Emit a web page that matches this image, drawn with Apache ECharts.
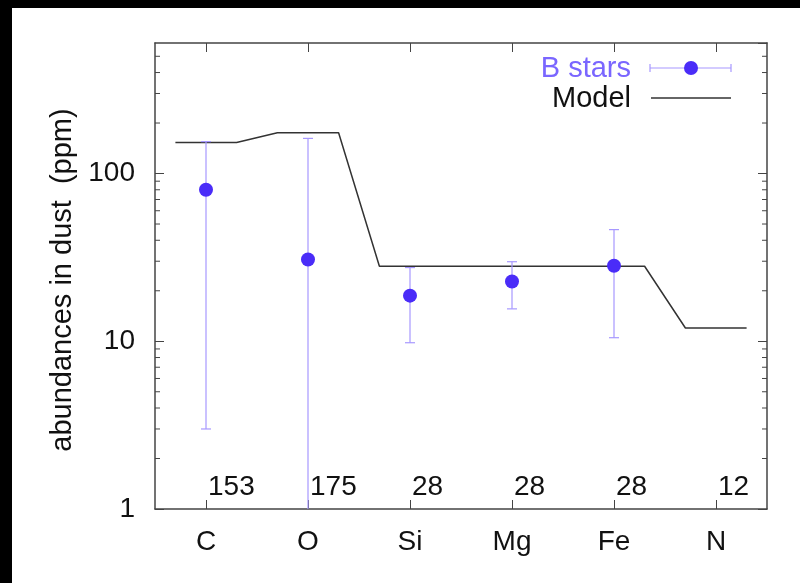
<!DOCTYPE html>
<html>
<head>
<meta charset="utf-8">
<title>abundances in dust</title>
<script src="https://cdn.jsdelivr.net/npm/echarts@6/dist/echarts.min.js"></script>
<style>
  html, body { margin: 0; padding: 0; background: #000; }
  #chart { position: absolute; left: 12px; top: 8px; width: 788px; height: 575px; background: #fff; }
</style>
</head>
<body>
<div id="chart"></div>
<script>
var elements = ["C", "O", "Si", "Mg", "Fe", "N"];
var modelValues = [153, 175, 28, 28, 28, 12];
var modelLabels = ["153", "175", "28", "28", "28", "12"];
// B stars: value, lower and upper end of the error bar
var starValues = [80, 30.7, 18.7, 22.7, 28.2];
var starLow = [3.0, 0.5, 9.8, 15.6, 10.5];
var starHigh = [155, 162, 27.5, 29.8, 46.3];
var yMinorTicks = [2, 3, 4, 5, 6, 7, 8, 9, 20, 30, 40, 50, 60, 70, 80, 90, 200, 300, 400, 500];

!(function(echarts) {
  var font = "Liberation Sans, Arial, Helvetica, sans-serif";
  var ink = "#111";
  var frame = "#444";
  var dotColor = "#4a2cf8";
  var barColor = "#a798ff";

  var chart = echarts.init(document.getElementById("chart"));

  // model: flat step around each element, joined by sloped segments
  var modelLine = [];
  modelValues.forEach(function(v, i) {
    modelLine.push([i - 0.3, v]);
    modelLine.push([i + 0.3, v]);
  });

  var stars = starValues.map(function(v, i) { return [i, v]; });
  var bars = starValues.map(function(v, i) { return [i, starLow[i], starHigh[i]]; });
  var labelPts = modelLabels.map(function(t, i) { return [i, 1.35, t]; });
  var minor = yMinorTicks.map(function(v) { return [0, v]; });

  function catAxis(pos, labels) {
    return {
      type: "category",
      position: pos,
      data: elements,
      boundaryGap: true,
      axisLine: { show: true, onZero: false, lineStyle: { color: frame, width: 1.5 } },
      axisTick: { show: true, inside: true, alignWithLabel: true, length: 9, lineStyle: { color: frame, width: 1 } },
      axisLabel: { show: labels, margin: 19, color: ink, fontSize: 28, fontFamily: font },
      splitLine: { show: false }
    };
  }

  function logAxis(pos, labels) {
    return {
      type: "log",
      logBase: 10,
      position: pos,
      min: 1,
      max: 600,
      name: labels ? "abundances in dust  (ppm)" : "",
      nameLocation: "middle",
      nameGap: 76,
      nameTextStyle: { color: ink, fontSize: 29, fontFamily: font, padding: [0, 8, 0, 0] },
      axisLine: { show: true, onZero: false, lineStyle: { color: frame, width: 1.5 } },
      axisTick: { show: true, inside: true, length: 9, lineStyle: { color: frame, width: 1 } },
      axisLabel: { show: labels, showMaxLabel: false, margin: 20, color: ink, fontSize: 28, fontFamily: font },
      splitLine: { show: false }
    };
  }

  var option = {
    animation: false,
    backgroundColor: "#fff",
    grid: { left: 143, top: 35, right: 33, bottom: 74, containLabel: false },
    xAxis: [
      catAxis("bottom", true),
      catAxis("top", false),
      { type: "value", min: -0.5, max: 5.5, show: false, axisLine: { onZero: false } }
    ],
    yAxis: [logAxis("left", true), logAxis("right", false)],
    series: [
      {
        name: "Model",
        type: "line",
        xAxisIndex: 2,
        data: modelLine,
        showSymbol: false,
        lineStyle: { color: "#333", width: 1.5 },
        z: 3
      },
      {
        name: "B stars errors",
        type: "custom",
        xAxisIndex: 2,
        clip: true,
        data: bars,
        renderItem: function(params, api) {
          var x = api.value(0);
          var lo = api.coord([x, api.value(1)]);
          var hi = api.coord([x, api.value(2)]);
          var cap = 5;
          var st = { stroke: barColor, lineWidth: 1.2 };
          return {
            type: "group",
            children: [
              { type: "line", shape: { x1: lo[0], y1: lo[1], x2: hi[0], y2: hi[1] }, style: st },
              { type: "line", shape: { x1: lo[0] - cap, y1: lo[1], x2: lo[0] + cap, y2: lo[1] }, style: st },
              { type: "line", shape: { x1: hi[0] - cap, y1: hi[1], x2: hi[0] + cap, y2: hi[1] }, style: st }
            ]
          };
        },
        z: 4
      },
      {
        name: "B stars",
        type: "scatter",
        xAxisIndex: 2,
        data: stars,
        symbol: "circle",
        symbolSize: 14,
        itemStyle: { color: dotColor, opacity: 1 },
        z: 5
      },
      {
        name: "labels",
        type: "scatter",
        xAxisIndex: 2,
        data: labelPts,
        symbolSize: 0,
        silent: true,
        itemStyle: { opacity: 1 },
        label: {
          show: true,
          position: "right",
          distance: 2,
          color: ink,
          fontSize: 28,
          fontFamily: font,
          formatter: function(p) { return p.value[2]; }
        }
      },
      {
        name: "minor ticks",
        type: "custom",
        xAxisIndex: 2,
        data: minor,
        silent: true,
        renderItem: function(params, api) {
          var p = api.coord([0, api.value(1)]);
          var cs = params.coordSys;
          var st = { stroke: frame, lineWidth: 1 };
          return {
            type: "group",
            children: [
              { type: "line", shape: { x1: cs.x, y1: p[1], x2: cs.x + 5, y2: p[1] }, style: st },
              { type: "line", shape: { x1: cs.x + cs.width - 5, y1: p[1], x2: cs.x + cs.width, y2: p[1] }, style: st }
            ]
          };
        }
      }
    ],
    // key drawn by hand: text right-aligned before the sample
    graphic: [
      { type: "text", x: 619, y: 61, style: { text: "B stars", fill: "#7a66ff", font: "29px " + font, align: "right", verticalAlign: "middle" } },
      { type: "line", shape: { x1: 638, y1: 60, x2: 719, y2: 60 }, style: { stroke: barColor, lineWidth: 1.2 } },
      { type: "line", shape: { x1: 638, y1: 56, x2: 638, y2: 64 }, style: { stroke: barColor, lineWidth: 1.2 } },
      { type: "line", shape: { x1: 719, y1: 56, x2: 719, y2: 64 }, style: { stroke: barColor, lineWidth: 1.2 } },
      { type: "circle", shape: { cx: 679, cy: 60, r: 7 }, style: { fill: dotColor } },
      { type: "text", x: 619, y: 91, style: { text: "Model", fill: ink, font: "29px " + font, align: "right", verticalAlign: "middle" } },
      { type: "line", shape: { x1: 639, y1: 90, x2: 719, y2: 90 }, style: { stroke: "#333", lineWidth: 1.5 } }
    ]
  };

  chart.setOption(option);
})(window.echarts);
</script>
</body>
</html>
